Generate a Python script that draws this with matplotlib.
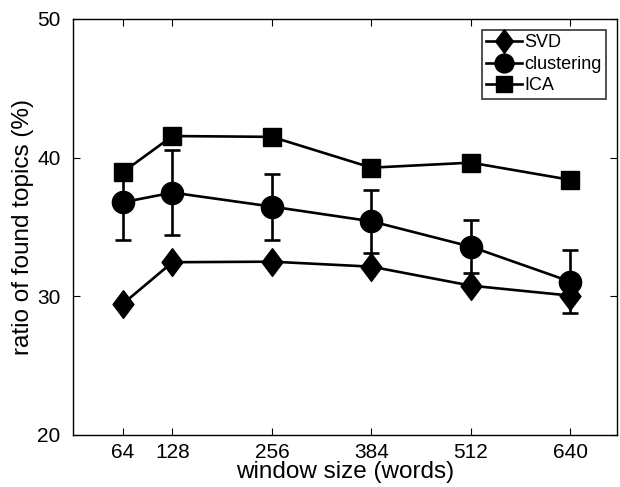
import matplotlib
matplotlib.use("Agg")
import matplotlib.pyplot as plt

window = [64, 128, 256, 384, 512, 640]
svd = [29.45, 32.46, 32.5, 32.14, 30.77, 30.05]
clustering = [36.78, 37.48, 36.47, 35.41, 33.58, 31.06]
clustering_err = [2.75, 3.05, 2.38, 2.25, 1.9, 2.25]
ica = [38.95, 41.56, 41.5, 39.28, 39.64, 38.4]
yticks = [20, 30, 40, 50]

plt.rcParams['font.family'] = ['Liberation Sans', 'DejaVu Sans']

fig = plt.figure(figsize=(6.2, 4.87), dpi=100)
ax = fig.add_axes([73/620, 1-435/487, (617-73)/620, (435-19)/487])

diamond = [(0, 1), (0.75, 0), (0, -1), (-0.75, 0), (0, 1)]
lw = 1.9

ax.plot(window, svd, color='black', lw=lw, marker=diamond, markersize=20, label='SVD')
ax.errorbar(window, clustering, yerr=clustering_err, fmt='none', ecolor='black',
            capsize=6, capthick=lw, elinewidth=lw)
ax.plot(window, clustering, color='black', lw=lw, marker='o', markersize=16,
        label='clustering')
ax.plot(window, ica, color='black', lw=lw, marker='s', markersize=13, label='ICA')

ax.set_xlim(0, 700)
ax.set_ylim(20, 50)
ax.set_xticks(window)
ax.set_yticks(yticks)
ax.tick_params(direction='in', top=True, right=True, labelsize=15, length=5)
ax.tick_params(axis='y', pad=9)
ax.tick_params(axis='x', pad=6)
for s in ax.spines.values():
    s.set_linewidth(1)
ax.set_xlabel('window size (words)', fontsize=17.5, labelpad=-1)
ax.set_ylabel('ratio of found topics (%)', fontsize=17.5, labelpad=2)

leg = ax.legend(loc='upper right', fontsize=13, frameon=True, fancybox=False,
                edgecolor='black', handlelength=2.0, handletextpad=0.1,
                borderpad=0.25, labelspacing=0.25, borderaxespad=0.6,
                markerscale=0.85)
leg.get_frame().set_linewidth(1.2)

fig.savefig('out.png', dpi=100)
